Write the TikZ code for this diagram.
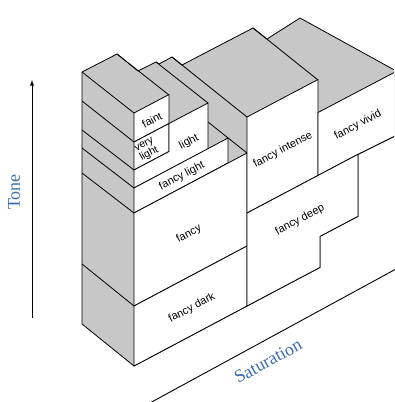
\documentclass[tikz,border=0pt]{standalone}
\usepackage{fontspec}
\setmainfont{Liberation Serif}
\newfontfamily\lsans{Liberation Sans}
\definecolor{axblue}{RGB}{58,108,178}
\begin{document}
\begin{tikzpicture}[x=1pt,y=-1pt,
  face/.style={draw=black,line width=0.8pt,line join=round},
  grayface/.style={face,fill=black!22},
  whiteface/.style={face,fill=white},
  lbl/.style={font=\lsans\fontsize{11}{11}\selectfont,rotate=28,inner sep=0pt},
  axislbl/.style={font=\fontsize{18}{18}\selectfont,text=axblue,inner sep=0pt}]
\useasboundingbox (0,0) rectangle (394,402);
\begin{scope}
\clip (0,0) rectangle (394,402);
% whole body in gray
\draw[grayface] (82,72) -- (117,54) -- (138,71) -- (156,62) -- (159,64) -- (172,57) -- (182,65) -- (253,28) -- (267,39) -- (300,18) -- (398,72) -- (398,134.5) -- (358,154.3) -- (358,216.3) -- (320,236.4) -- (320,267.4) -- (247,306) -- (134,366) -- (82,324) -- cycle;
% ridge lines
\draw[face] (134,113) -- (82,72);
\draw[face] (169,95) -- (117,54);
\draw[face] (208,103) -- (156,62);
\draw[face] (247,117) -- (172,57);
\draw[face] (318,80) -- (253,28);
\draw[face] (208,122) -- (247,153);
% left face dividers
\draw[face] (82,101) -- (134,142);
\draw[face] (82,130) -- (134,170);
\draw[face] (82,148) -- (134,188);
\draw[face] (82,173) -- (134,213);
\draw[face] (82,264) -- (134,306);
% front faces
\draw[whiteface] (134,113) -- (169,94.5) -- (169,123.5) -- (134,142) -- cycle;
\draw[whiteface] (134,142) -- (169,123.5) -- (169,151.5) -- (134,170) -- cycle;
\draw[whiteface] (134,170) -- (169,151.5) -- (169,123.5) -- (208,103) -- (208,149) -- (134,188) -- cycle;
\draw[whiteface] (134,188) -- (228,138) -- (228,163) -- (134,213) -- cycle;
\draw[whiteface] (134,213) -- (247,153) -- (247,246) -- (134,306) -- cycle;
\draw[whiteface] (134,306) -- (247,246) -- (247,306) -- (134,366) -- cycle;
\draw[whiteface] (247,117) -- (318,79.5) -- (318,175.5) -- (247,213) -- cycle;
\draw[whiteface] (318,112.5) -- (398,70.5) -- (398,134.5) -- (358,154.3) -- (318,175.5) -- cycle;
\draw[whiteface] (247,213) -- (358,154.3) -- (358,216.3) -- (320,236.4) -- (320,267.4) -- (247,306) -- cycle;
\end{scope}
% labels
\node[lbl] (faint) at (152,120) {faint};
\node[lbl,align=center,font=\lsans\fontsize{10.5}{8}\selectfont] (vlight) at (147,150) {very\\light};
\node[lbl] (light) at (189,142) {light};
\node[lbl] (flight) at (182,176) {fancy light};
\node[lbl] (fancy) at (189,234) {fancy};
\node[lbl] (fdark) at (192,308) {fancy dark};
\node[lbl] (fint) at (283,150) {fancy intense};
\node[lbl] (fdeep) at (300,220) {fancy deep};
\node[lbl] (fvivid) at (358,125) {fancy vivid};
% axes
\coordinate (tb) at (32,318);
\coordinate (tt) at (32,80);
\draw[-latex,line width=0.9pt] (tb) -- (tt);
\node[axislbl,rotate=90] (tone) at (14,192) {Tone};
\coordinate (sa) at (148,404);
\coordinate (sb) at (396,269);
\draw[line width=0.9pt] (sa) -- (sb);
\node[axislbl,rotate=28.5] (sat) at (268,361) {Saturation};
\end{tikzpicture}
\end{document}
